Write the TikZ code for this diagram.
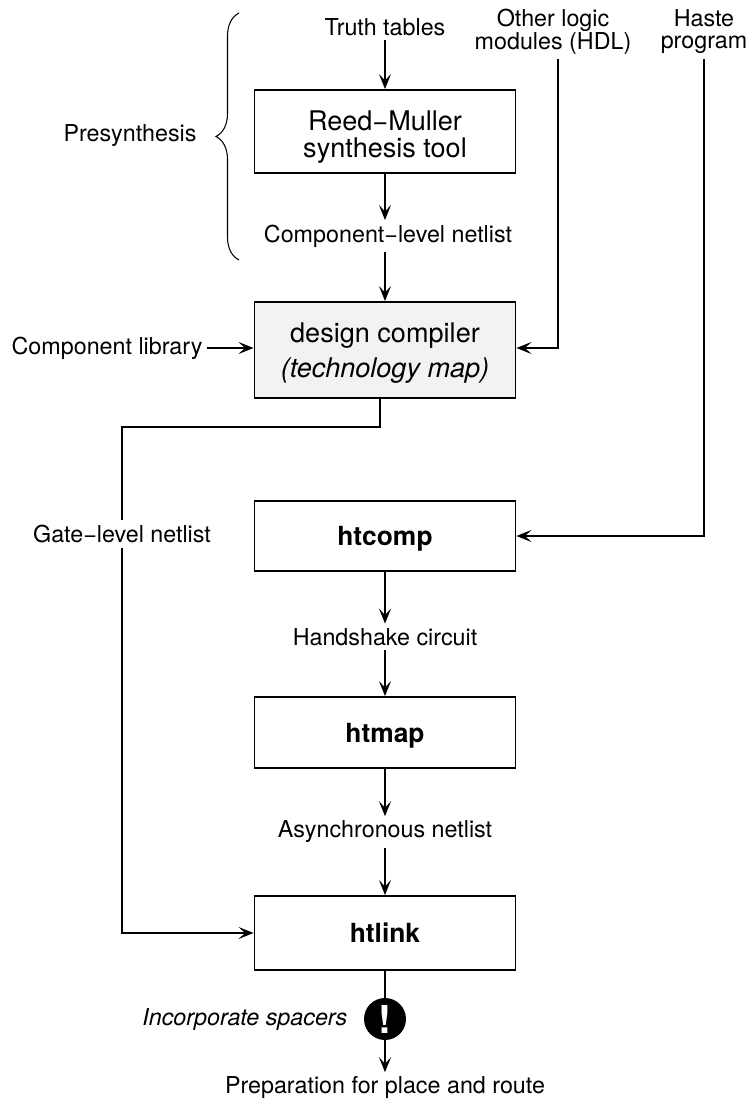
\documentclass[tikz,border=0pt]{standalone}
\usepackage{fontspec}
\setmainfont{TeX Gyre Heros}
\usepackage{xcolor}
\usetikzlibrary{arrows.meta, positioning, calc, decorations.pathreplacing}
\definecolor{boxgray}{RGB}{242, 242, 242}

\begin{document}
\begin{tikzpicture}[
    box/.style={rectangle, draw=black, line width=1.1pt, minimum width=5.22cm, align=center},
    stepbox/.style={box, font=\fontsize{15.4}{15.5}\selectfont},
    toolname/.style={box, text depth=0pt, font=\fontsize{15}{18}\selectfont\bfseries},
    label/.style={align=center, inner sep=2.5pt, font=\fontsize{13.25}{13}\selectfont},
    arrow/.style={-{Stealth[length=3mm, width=2.4mm, inset=1.3mm]}, line width=1.1pt},
    wire/.style={line width=1.1pt}
]
\useasboundingbox (0,0) rectangle (15,-22.02);

% Presynthesis brace
\node[label] (presyn) at (2.6,-2.72) {Presynthesis};
\draw[line width=0.6pt, decorate, decoration={brace, amplitude=0.46cm, aspect=0.5}] (4.78,-5.2) -- (4.78,-0.26);

% Inputs
\node[label] (truth) at (7.7,-0.54) {Truth tables};
\node[label] (other) at (11.06,-0.63) {Other logic\\modules (HDL)};
\node[label] (haste) at (14.08,-0.63) {Haste\\program};

% Reed-Muller box
\node[stepbox, minimum height=1.66cm] (reed) at (7.7,-2.63) {\rule{0pt}{18pt}Reed−Muller\\synthesis tool};
\node[label] (compnet) at (7.76,-4.72) {Component−level netlist};

% Design compiler box
\node[stepbox, fill=boxgray, minimum height=1.92cm] (dc) at (7.7,-7) {\rule{0pt}{15pt}design compiler\\[1.5mm]\textit{(technology map)}};
\node[label] (complib) at (2.14,-6.96) {Component library};
\coordinate (modin) at (11.16,-6.96);
\coordinate (dcout) at (7.6,-8.54);

% Haste flow
\node[toolname, minimum height=1.4cm] (htcomp) at (7.7,-10.72) {htcomp};
\node[label] (hsc) at (7.7,-12.74) {Handshake circuit};
\node[toolname, minimum height=1.42cm] (htmap) at (7.7,-14.65) {htmap};
\node[label] (async) at (7.7,-16.64) {Asynchronous netlist};
\node[toolname, minimum height=1.48cm] (htlink) at (7.7,-18.66) {htlink};
\node[label] (gate) at (2.44,-10.68) {Gate−level netlist};

% Spacers
\node[circle, fill=black, text=white, minimum size=0.84cm, inner sep=0pt, font=\fontsize{22}{22}\selectfont\bfseries] (alert) at (7.7,-20.38) {!};
\node[label, anchor=east, font=\fontsize{13.25}{13}\selectfont\itshape] (spacers) at (7.04,-20.38) {Incorporate spacers};
\node[label] (prep) at (7.7,-21.76) {Preparation for place and route};

% Connecting arrows
\draw[arrow] (truth) -- (reed);
\draw[arrow] (reed.south) -- (reed.south |- compnet.north);
\draw[arrow] (dc.north |- compnet.south) -- (dc.north);
\draw[arrow] (complib) -- (dc.west |- complib);
\draw[arrow] (other.south -| modin) -- (modin) -- (modin -| dc.east);
\draw[arrow] (haste.south) |- (htcomp.east);
\draw[wire] (dc.south -| dcout) -- (dcout) -| (gate.north);
\draw[arrow] (gate.south) |- (htlink.west);
\draw[arrow] (htcomp) -- (hsc);
\draw[arrow] (hsc) -- (htmap);
\draw[arrow] (htmap) -- (async);
\draw[arrow] (async) -- (htlink);
\draw[wire] (htlink) -- (alert);
\draw[arrow] (alert) -- (prep);

\end{tikzpicture}
\end{document}
